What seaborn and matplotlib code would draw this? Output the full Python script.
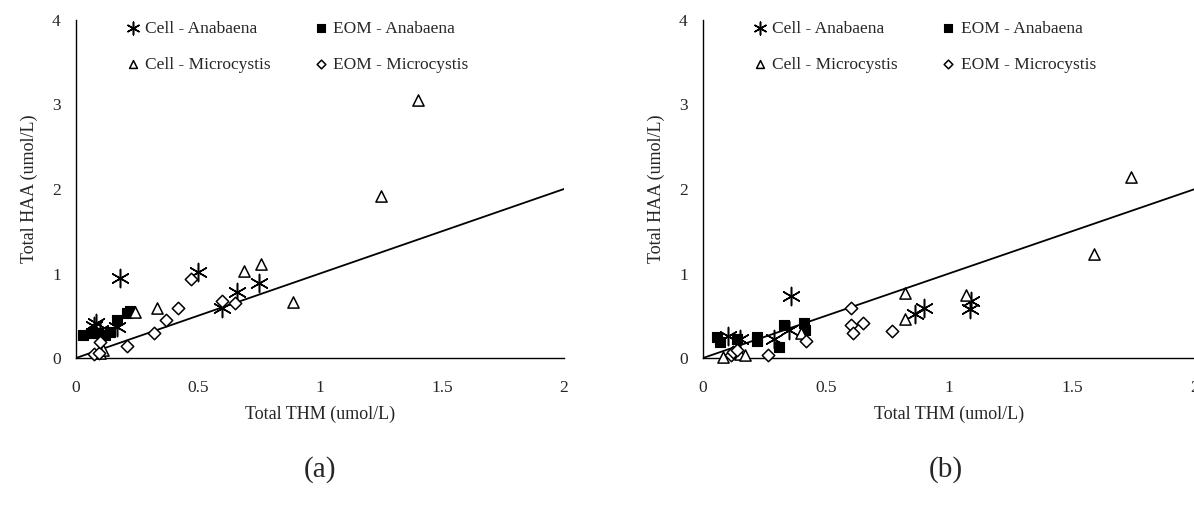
import matplotlib
matplotlib.use("Agg")
import matplotlib.pyplot as plt
import seaborn as sns
import pandas as pd

sns.set_style("white")
plt.rcParams['font.family'] = ['Liberation Serif', 'DejaVu Serif']

# ---- data: panel (a) ----
a_cell_ana_x = [0.075, 0.08, 0.10, 0.17, 0.18, 0.50, 0.60, 0.66, 0.75]
a_cell_ana_y = [0.38, 0.42, 0.33, 0.37, 0.95, 1.02, 0.59, 0.78, 0.89]
a_eom_ana_x = [0.03, 0.06, 0.09, 0.12, 0.14, 0.17, 0.21, 0.22]
a_eom_ana_y = [0.27, 0.29, 0.30, 0.27, 0.31, 0.45, 0.53, 0.56]
a_cell_mic_x = [0.10, 0.11, 0.24, 0.33, 0.69, 0.76, 0.89, 1.25, 1.40]
a_cell_mic_y = [0.06, 0.10, 0.55, 0.59, 1.03, 1.11, 0.66, 1.92, 3.05]
a_eom_mic_x = [0.075, 0.095, 0.10, 0.21, 0.32, 0.37, 0.42, 0.47, 0.60, 0.65]
a_eom_mic_y = [0.05, 0.06, 0.19, 0.14, 0.30, 0.45, 0.59, 0.93, 0.68, 0.65]

# ---- data: panel (b) ----
b_cell_ana_x = [0.10, 0.15, 0.29, 0.35, 0.356, 0.86, 0.90, 1.09, 1.085]
b_cell_ana_y = [0.26, 0.23, 0.23, 0.33, 0.73, 0.52, 0.59, 0.67, 0.58]
b_eom_ana_x = [0.056, 0.07, 0.137, 0.22, 0.22, 0.31, 0.33, 0.41, 0.415]
b_eom_ana_y = [0.245, 0.19, 0.23, 0.25, 0.20, 0.13, 0.39, 0.41, 0.33]
b_cell_mic_x = [0.083, 0.15, 0.17, 0.40, 0.82, 0.82, 1.07, 1.59, 1.74]
b_cell_mic_y = [0.015, 0.05, 0.035, 0.29, 0.77, 0.46, 0.75, 1.23, 2.14]
b_eom_mic_x = [0.114, 0.12, 0.137, 0.265, 0.42, 0.60, 0.60, 0.61, 0.65, 0.77]
b_eom_mic_y = [0.03, 0.075, 0.095, 0.035, 0.20, 0.59, 0.39, 0.29, 0.42, 0.32]

# 1:1 reference line
line_x = [0, 2]
line_y = [0, 2]

series_names = ["Cell - Anabaena", "EOM - Anabaena", "Cell - Microcystis", "EOM - Microcystis"]
x_ticks = [0, 0.5, 1, 1.5, 2]
x_tick_labels = ["0", "0.5", "1", "1.5", "2"]
y_ticks = [0, 1, 2, 3, 4]
y_tick_labels = ["0", "1", "2", "3", "4"]
panel_labels = ["(a)", "(b)"]

panels = [
    [(a_cell_ana_x, a_cell_ana_y), (a_eom_ana_x, a_eom_ana_y),
     (a_cell_mic_x, a_cell_mic_y), (a_eom_mic_x, a_eom_mic_y)],
    [(b_cell_ana_x, b_cell_ana_y), (b_eom_ana_x, b_eom_ana_y),
     (b_cell_mic_x, b_cell_mic_y), (b_eom_mic_x, b_eom_mic_y)],
]

styles = {
    "Cell - Anabaena": dict(marker=(6, 2, 0), s=170, color="black", linewidth=1.1),
    "EOM - Anabaena": dict(marker="s", s=60, color="black", edgecolor="black", linewidth=0.8),
    "Cell - Microcystis": dict(marker="^", s=65, color="white", edgecolor="black", linewidth=1.1),
    "EOM - Microcystis": dict(marker="D", s=40, color="white", edgecolor="black", linewidth=1.1),
}

fig = plt.figure(figsize=(11.94, 5.11), dpi=100)
axes_pos = [[76 / 1194, 153 / 511, 488 / 1194, 338 / 511],
            [703 / 1194, 153 / 511, 492 / 1194, 338 / 511]]
label_x = [320 / 1194, 946 / 1194]

FS = 12.5
for i, pdata in enumerate(panels):
    ax = fig.add_axes(axes_pos[i])
    sns.lineplot(x=line_x, y=line_y, ax=ax, color="black", linewidth=1.3, zorder=1)
    handles = {}
    for name, (xs, ys) in zip(series_names, pdata):
        df = pd.DataFrame({"x": xs, "y": ys})
        sns.scatterplot(data=df, x="x", y="y", ax=ax, zorder=3, clip_on=False, **styles[name])
        handles[name] = ax.collections[-1]
    ax.set_xlim(0, 2)
    ax.set_ylim(0, 4)
    ax.set_xticks(x_ticks)
    ax.set_xticklabels(x_tick_labels)
    ax.set_yticks(y_ticks)
    ax.set_yticklabels(y_tick_labels)
    for sp in ["top", "right"]:
        ax.spines[sp].set_visible(False)
    for sp in ["left", "bottom"]:
        ax.spines[sp].set_color("black")
        ax.spines[sp].set_linewidth(1.0)
    ax.tick_params(axis="both", direction="inout", length=10, width=1.0,
                   color="black", labelsize=FS, pad=6)
    ax.tick_params(axis="x", pad=11)
    ax.set_xlabel("Total THM (umol/L)", fontsize=FS + 0.5, labelpad=7)
    ax.set_ylabel("Total HAA (umol/L)", fontsize=FS + 0.5, labelpad=10)
    order = ["Cell - Anabaena", "Cell - Microcystis", "EOM - Anabaena", "EOM - Microcystis"]
    ax.legend([handles[n] for n in order], order, loc="upper left",
              bbox_to_anchor=(0.06, 1.045), ncol=2, frameon=False,
              fontsize=FS, handletextpad=0.0, columnspacing=2.2,
              labelspacing=1.15, markerscale=0.7, handlelength=1.4)
    fig.text(label_x[i], 41 / 511, panel_labels[i], ha="center", va="center", fontsize=21)

fig.savefig("out.png", dpi=100, facecolor="white")
